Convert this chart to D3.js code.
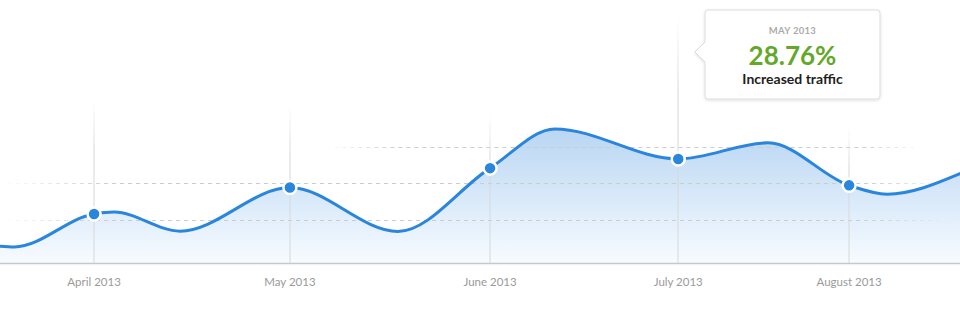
<!DOCTYPE html>
<html>
<head>
<meta charset="utf-8">
<script src="https://cdn.jsdelivr.net/npm/d3@7"></script>
<style>
  html, body { margin: 0; padding: 0; background: #fff; }
  svg { display: block; }
  text { font-family: Lato, "Open Sans", sans-serif; }
</style>
</head>
<body>
<svg id="chart" width="960" height="313"></svg>
<script>
// ---- data ----
const months = ["April 2013", "May 2013", "June 2013", "July 2013", "August 2013"];
const monthX = [9.8, 30.2, 51.05, 70.65, 88.45];
const monthValues = [1.16, 1.88, 2.41, 2.66, 1.94];
const curveX = [0, 1.5, 9.8, 11.9, 18.75, 30.2, 41.45, 51.05, 57.8, 70.65, 80.0, 88.45, 92.4, 100];
const curveValues = [0.28, 0.26, 1.16, 1.21, 0.69, 1.88, 0.68, 2.41, 3.48, 2.66, 3.10, 1.94, 1.70, 2.26];
const gridValues = [1, 2, 3];
const activeIndex = 3;
const tooltipTitle = "MAY 2013";
const tooltipValue = "28.76%";
const tooltipLabel = "Increased traffic";

// ---- layout ----
const W = 960, H = 313;
const baseY = 263;
const svg = d3.select("#chart");
const x = d3.scaleLinear().domain([0, 100]).range([0, W]);
const y = d3.scaleLinear().domain([-0.18, 7]).range([baseY, 0]);

const defs = svg.append("defs");
const areaGrad = defs.append("linearGradient").attr("id", "areaGrad")
  .attr("gradientUnits", "userSpaceOnUse").attr("x1", 0).attr("x2", 0)
  .attr("y1", y(d3.max(curveValues))).attr("y2", baseY);
areaGrad.append("stop").attr("offset", 0).attr("stop-color", "#b9d6f3");
areaGrad.append("stop").attr("offset", 1).attr("stop-color", "#f7fbff");

const vGrad = defs.append("linearGradient").attr("id", "vGrad")
  .attr("x1", 0).attr("x2", 0).attr("y1", 0).attr("y2", 1);
vGrad.append("stop").attr("offset", 0).attr("stop-color", "#d8d8d8").attr("stop-opacity", 0);
vGrad.append("stop").attr("offset", 0.3).attr("stop-color", "#d8d8d8").attr("stop-opacity", 1);
vGrad.append("stop").attr("offset", 1).attr("stop-color", "#d8d8d8").attr("stop-opacity", 1);

const shadow = defs.append("filter").attr("id", "shadow")
  .attr("x", "-10%").attr("y", "-10%").attr("width", "120%").attr("height", "130%");
shadow.append("feDropShadow").attr("dx", 0).attr("dy", 1).attr("stdDeviation", 1.5)
  .attr("flood-color", "#000").attr("flood-opacity", 0.13);

const pts = curveX.map((cx, i) => ({ x: cx, v: curveValues[i] }));

// area
const area = d3.area().x(d => x(d.x)).y0(baseY).y1(d => y(d.v)).curve(d3.curveMonotoneX);
svg.append("path").datum(pts).attr("d", area).attr("fill", "url(#areaGrad)");

// horizontal dashed grid lines
const gridExtents = [[0, 99], [0, 100], [34, 96]];
const gridG = svg.append("g");
gridValues.forEach((g, i) => {
  const x0 = x(gridExtents[i][0]), x1 = x(gridExtents[i][1]);
  const mask = defs.append("mask").attr("id", "gmask" + i).attr("maskUnits", "userSpaceOnUse")
    .attr("x", 0).attr("y", 0).attr("width", W).attr("height", H);
  const mg = defs.append("linearGradient").attr("id", "mg" + i).attr("gradientUnits", "userSpaceOnUse")
    .attr("x1", x0).attr("x2", x1).attr("y1", 0).attr("y2", 0);
  [[0, 0], [0.12, 1], [0.9, 1], [1, 0]].forEach(([o, a]) =>
    mg.append("stop").attr("offset", o).attr("stop-color", "#fff").attr("stop-opacity", a));
  mask.append("rect").attr("x", x0).attr("y", y(g) - 2).attr("width", x1 - x0).attr("height", 4)
    .attr("fill", "url(#mg" + i + ")");
  gridG.append("line")
    .attr("x1", x0).attr("x2", x1)
    .attr("y1", Math.round(y(g)) + 0.5).attr("y2", Math.round(y(g)) + 0.5)
    .attr("stroke", "#cccccc").attr("stroke-width", 1).attr("stroke-dasharray", "4,4")
    .attr("mask", "url(#gmask" + i + ")");
});

// vertical lines at months (the active one reaches up to the tooltip)
const vTop = (i) => i === activeIndex ? 15 : 98 + i * 7;
svg.append("g").selectAll("rect").data(months).join("rect")
  .attr("x", (d, i) => Math.round(x(monthX[i])) - 0.5)
  .attr("y", (d, i) => vTop(i))
  .attr("width", 1)
  .attr("height", (d, i) => baseY - vTop(i))
  .attr("fill", "url(#vGrad)");

// baseline
svg.append("line").attr("x1", 0).attr("x2", W).attr("y1", baseY + 0.5).attr("y2", baseY + 0.5)
  .attr("stroke", "#c8c8c8").attr("stroke-width", 1.5);

// line
const line = d3.line().x(d => x(d.x)).y(d => y(d.v)).curve(d3.curveMonotoneX);
svg.append("path").datum(pts).attr("d", line).attr("fill", "none")
  .attr("stroke", "#2a85dc").attr("stroke-width", 3).attr("stroke-linecap", "round");

// dots
svg.append("g").selectAll("circle").data(months).join("circle")
  .attr("cx", (d, i) => x(monthX[i])).attr("cy", (d, i) => y(monthValues[i]))
  .attr("r", 6.5).attr("fill", "#2a85dc").attr("stroke", "#fff").attr("stroke-width", 2.5);

// x labels
svg.append("g").selectAll("text").data(months).join("text")
  .attr("x", (d, i) => x(monthX[i])).attr("y", 286)
  .attr("text-anchor", "middle").attr("font-size", 11.5).attr("fill", "#9a9a9a")
  .text(d => d);

// tooltip
const tx = 705, ty = 10, tw = 175, th = 89;
const tipG = svg.append("g");
const pY = 52;
const tipPath = `M${tx + 3},${ty} H${tx + tw - 3} Q${tx + tw},${ty} ${tx + tw},${ty + 3} V${ty + th - 3} Q${tx + tw},${ty + th} ${tx + tw - 3},${ty + th} H${tx + 3} Q${tx},${ty + th} ${tx},${ty + th - 3} V${pY + 10} L${tx - 10},${pY} L${tx},${pY - 10} V${ty + 3} Q${tx},${ty} ${tx + 3},${ty} Z`;
tipG.append("path").attr("d", tipPath).attr("fill", "#fff").attr("stroke", "#dcdcdc")
  .attr("stroke-width", 1).attr("filter", "url(#shadow)");
const cxT = tx + tw / 2;
tipG.append("text").attr("x", cxT).attr("y", 33.5).attr("text-anchor", "middle")
  .attr("font-size", 9.5).attr("font-weight", 700).attr("fill", "#ababab").attr("letter-spacing", 0.3)
  .text(tooltipTitle);
tipG.append("text").attr("x", cxT).attr("y", 64.5).attr("text-anchor", "middle")
  .attr("font-size", 26).attr("font-weight", 700).attr("fill", "#63a828")
  .text(tooltipValue);
tipG.append("text").attr("x", cxT).attr("y", 83.5).attr("text-anchor", "middle")
  .attr("font-size", 14).attr("font-weight", 700).attr("fill", "#1e1e1e")
  .text(tooltipLabel);
</script>
</body>
</html>
